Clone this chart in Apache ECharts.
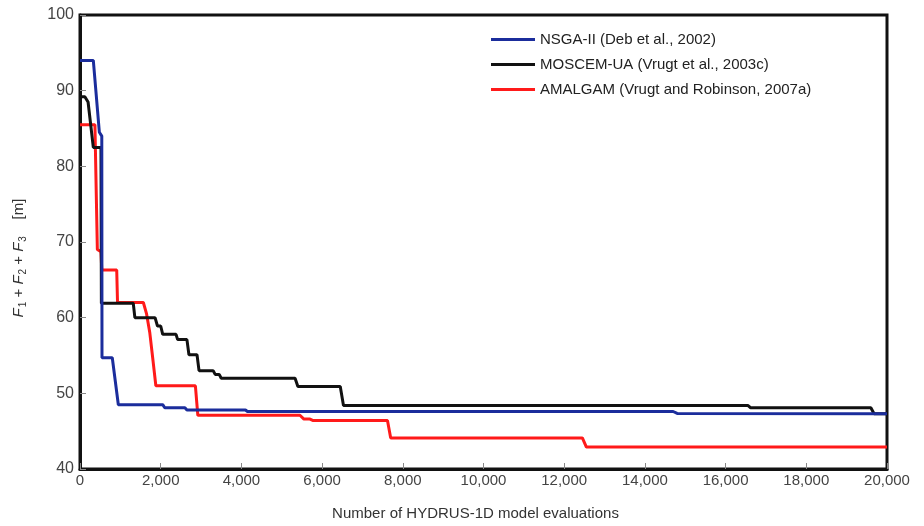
<!DOCTYPE html>
<html>
<head>
<meta charset="utf-8">
<script src="https://cdn.jsdelivr.net/npm/echarts@6/dist/echarts.min.js"></script>
<style>
  html, body { margin: 0; padding: 0; background: #fff; }
  #chart { width: 924px; height: 526px; }
</style>
</head>
<body>
<div id="chart"></div>
<script>
// series names (legend)
const seriesNames = [
  'NSGA-II (Deb et al., 2002)',
  'MOSCEM-UA (Vrugt et al., 2003c)',
  'AMALGAM (Vrugt and Robinson, 2007a)'
];

// [evaluations, F1+F2+F3], corners of the steps included
const nsga = [
  [0, 94.0], [330, 94.0], [480, 84.5], [540, 84.0], [545, 54.7], [800, 54.7],
  [950, 48.5], [2050, 48.5], [2100, 48.1], [2600, 48.1], [2650, 47.8],
  [4100, 47.8], [4150, 47.6], [14700, 47.6], [14800, 47.35], [20000, 47.3]
];
const moscem = [
  [0, 89.2], [120, 89.2], [200, 88.5], [330, 82.5], [520, 82.5], [530, 61.9],
  [1320, 61.9], [1360, 60.0], [1860, 60.0], [1920, 58.9], [2000, 58.9],
  [2050, 57.8], [2380, 57.8], [2420, 57.1], [2650, 57.1], [2700, 55.1],
  [2900, 55.1], [2950, 53.0], [3300, 53.0], [3350, 52.5], [3450, 52.5],
  [3500, 52.0], [5330, 52.0], [5400, 50.9], [6450, 50.9], [6530, 48.4],
  [16550, 48.4], [16620, 48.1], [19600, 48.1], [19680, 47.3], [20000, 47.3]
];
const amalgam = [
  [0, 85.5], [370, 85.5], [430, 69.0], [520, 68.7], [540, 66.3], [910, 66.3],
  [930, 62.0], [1570, 62.0], [1650, 60.5], [1730, 58.0], [1810, 54.3],
  [1880, 51.0], [2860, 51.0], [2920, 47.1], [5450, 47.1], [5550, 46.6],
  [5700, 46.6], [5780, 46.4], [7620, 46.4], [7700, 44.1], [12450, 44.1],
  [12550, 42.9], [20000, 42.9]
];

const colors = ['#1b2d9c', '#111111', '#ff1a1a'];
const font = 'Liberation Sans';

const chart = echarts.init(document.getElementById('chart'));

chart.setOption({
  animation: false,
  textStyle: { fontFamily: font },
  grid: {
    left: 80, right: 37, top: 15, bottom: 54,
    show: true, borderColor: '#111', borderWidth: 3
  },
  legend: {
    data: seriesNames,
    orient: 'vertical',
    left: 486, top: 27,
    icon: 'rect',
    itemWidth: 44, itemHeight: 3,
    itemGap: 10,
    textStyle: { fontSize: 15, color: '#222', fontFamily: font }
  },
  xAxis: {
    type: 'value',
    min: 0, max: 20000, interval: 2000,
    name: 'Number of HYDRUS-1D model evaluations',
    nameLocation: 'middle',
    nameGap: 37,
    nameTextStyle: { fontSize: 15, color: '#333', padding: [0, 16, 0, 0] },
    axisLine: { show: true, lineStyle: { color: '#111', width: 3 } },
    axisTick: { show: true, inside: true, length: 6, lineStyle: { color: '#888', width: 1 } },
    axisLabel: {
      fontSize: 15, color: '#444', margin: 4,
      formatter: v => v.toLocaleString('en-US')
    },
    splitLine: { show: false }
  },
  yAxis: {
    type: 'value',
    min: 40, max: 100, interval: 10,
    name: '{i|F}{s|1}{t| + }{i|F}{s|2}{t| + }{i|F}{s|3}{t|    [m]}',
    nameLocation: 'middle',
    nameRotate: 90,
    nameGap: 52,
    nameTextStyle: {
      padding: [0, 32, 0, 0],
      rich: {
        i: { fontStyle: 'italic', fontSize: 15, color: '#333', fontFamily: font },
        s: { fontSize: 10, color: '#333', fontFamily: font, verticalAlign: 'bottom', padding: [8, 0, 0, 1] },
        t: { fontSize: 15, color: '#333', fontFamily: font }
      }
    },
    axisLine: { show: true, lineStyle: { color: '#111', width: 3 } },
    axisTick: { show: true, inside: true, length: 6, lineStyle: { color: '#888', width: 1 } },
    axisLabel: { fontSize: 16, color: '#444', margin: 6 },
    splitLine: { show: false }
  },
  series: [
    { name: seriesNames[0], data: nsga },
    { name: seriesNames[1], data: moscem },
    { name: seriesNames[2], data: amalgam }
  ].map((s, i) => Object.assign({
    type: 'line',
    showSymbol: false,
    symbol: 'none',
    color: colors[i],
    lineStyle: { color: colors[i], width: 3 },
    z: 3 - i
  }, s))
});
</script>
</body>
</html>
